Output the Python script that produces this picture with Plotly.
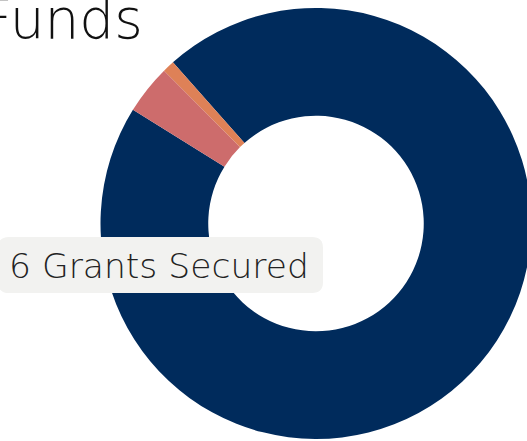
import plotly.graph_objects as go

# Data
categories = ["Grants Secured", "Pending", "Other"]
values = [95.4, 3.7, 0.9]
colors = ["#002B5C", "#CD6C6C", "#DE8157"]
title_text = "Funds"
label_text = "6 Grants Secured"

W, H = 532, 441

fig = go.Figure(
    go.Pie(
        labels=categories,
        values=values,
        marker=dict(colors=colors, line=dict(width=0)),
        hole=0.5,
        sort=False,
        direction="clockwise",
        rotation=-41.6,
        textinfo="none",
        hoverinfo="skip",
        showlegend=False,
        domain=dict(x=[100.5 / W, 531.5 / W], y=[1 - 439 / H, 1 - 8 / H]),
    )
)


def rounded_rect(x0, y0, x1, y1, r):
    # pixel coords, y up
    return (
        f"M {x0 + r},{y1} L {x1 - r},{y1} Q {x1},{y1} {x1},{y1 - r} "
        f"L {x1},{y0 + r} Q {x1},{y0} {x1 - r},{y0} "
        f"L {x0 + r},{y0} Q {x0},{y0} {x0},{y0 + r} "
        f"L {x0},{y1 - r} Q {x0},{y1} {x0 + r},{y1} Z"
    )


fig.add_shape(
    type="path",
    xref="paper", yref="paper",
    xsizemode="pixel", ysizemode="pixel",
    xanchor=0, yanchor=1,
    path=rounded_rect(-2, -293, 323, -237, 11),
    fillcolor="#F2F2F0",
    line=dict(width=0),
    layer="above",
)

fig.add_annotation(
    x=7 / W, y=1 - 266 / H, xref="paper", yref="paper",
    xanchor="left", yanchor="middle",
    text=label_text, showarrow=False,
    font=dict(family="DejaVu Sans", size=34.5, color="#222222", weight=300),
)

fig.add_annotation(
    x=145 / W, y=1 - 19 / H, xref="paper", yref="paper",
    xanchor="right", yanchor="middle",
    text=title_text, showarrow=False,
    font=dict(family="DejaVu Sans", size=55, color="#111111", weight=300),
)

fig.update_layout(
    width=W, height=H,
    margin=dict(l=0, r=0, t=0, b=0),
    paper_bgcolor="white",
    plot_bgcolor="white",
)

fig.write_html(
    "out.html",
    config={"displayModeBar": False, "staticPlot": True},
    post_script="document.body.style.margin='0px';",
)
